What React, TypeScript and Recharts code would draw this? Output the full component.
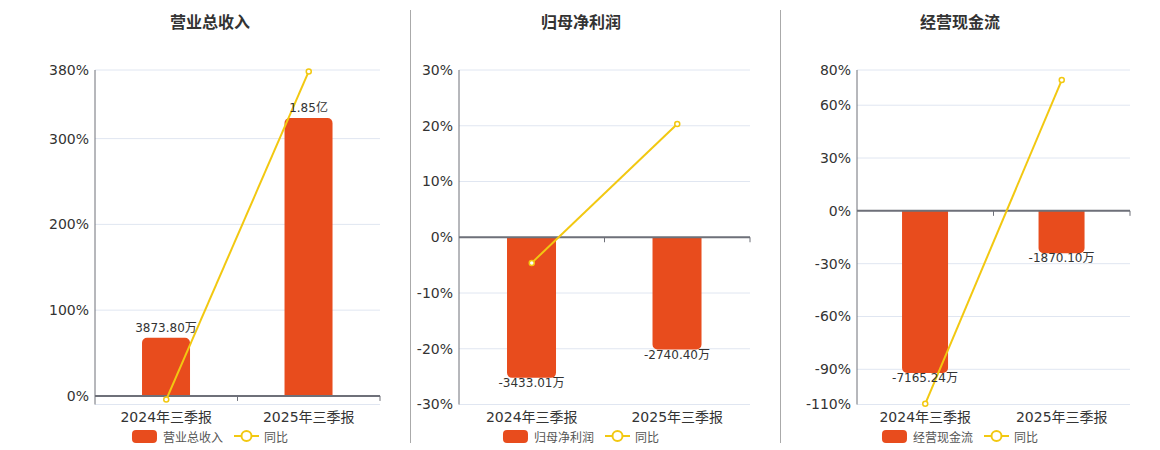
import React from "react"
import { ComposedChart, Bar, Line, XAxis, YAxis, CartesianGrid, ReferenceLine, LabelList } from "recharts"

// 报告期
const periods = ["2024年三季报", "2025年三季报"]

// 营业总收入 (万元) / 同比 (%)
const revenueValues = [3873.8, 18500]
const revenueYoy = [-4.2, 378.3]
const revenueTicks = [-10, 0, 100, 200, 300, 380]
const revenueTickLabels = ["", "0%", "100%", "200%", "300%", "380%"]

// 归母净利润
const profitValues = [-3433.01, -2740.4]
const profitYoy = [-4.6, 20.3]
const profitTicks = [-30, -20, -10, 0, 10, 20, 30]
const profitTickLabels = ["-30%", "-20%", "-10%", "0%", "10%", "20%", "30%"]

// 经营现金流
const cashValues = [-7165.24, -1870.1]
const cashYoy = [-109.6, 74.3]
const cashTicks = [-110, -90, -60, -30, 0, 30, 60, 80]
const cashTickLabels = ["-110%", "-90%", "-60%", "-30%", "0%", "30%", "60%", "80%"]

const BAR_COLOR = "#E84C1D"
const LINE_COLOR = "#F2C811"
const AXIS_COLOR = "#6E7079"
const GRID_COLOR = "#E0E6F1"
const FONT = "'DejaVu Sans', 'Noto Sans CJK SC', sans-serif"

const formatWan = (v: number) =>
  Math.abs(v) >= 10000 ? (v / 10000).toFixed(2) + "亿" : v.toFixed(2) + "万"

const BarValueLabel = (props: any) => {
  const { x, y, width, height, value } = props
  const top = Math.min(Number(y), Number(y) + Number(height))
  const bottom = Math.max(Number(y), Number(y) + Number(height))
  const cx = Number(x) + Number(width) / 2
  const ty = value >= 0 ? top - 6 : bottom + 9
  return (
    <text x={cx} y={ty} textAnchor="middle" fontSize={12} fill="#333" fontFamily={FONT}>
      {formatWan(value)}
    </text>
  )
}

const ZeroAxis = (props: any) => {
  const { x1, x2, y1 } = props
  const mid = (x1 + x2) / 2
  return (
    <g>
      <line x1={x1} y1={y1} x2={x2} y2={y1} stroke={AXIS_COLOR} strokeWidth={2} />
      {[mid, x2].map((tx: number) => (
        <line key={tx} x1={tx} x2={tx} y1={y1} y2={y1 + 5} stroke={AXIS_COLOR} strokeWidth={1} />
      ))}
    </g>
  )
}

interface PanelProps {
  title: string
  name: string
  values: number[]
  yoy: number[]
  ticks: number[]
  tickLabels: string[]
  left: number
  width: number
  center: number
  yAxisWidth: number
  rightMargin: number
  barPerPct: number
}

const Panel: React.FC<PanelProps> = ({
  title, name, values, yoy, ticks, tickLabels, left, width, center, yAxisWidth, rightMargin, barPerPct,
}) => {
  const rows = periods.map((p, i) => ({ period: p, value: values[i], yoy: yoy[i] }))
  const min = ticks[0]
  const max = ticks[ticks.length - 1]
  return (
    <>
      <div
        style={{
          position: "absolute", left: center, top: 13, transform: "translateX(-50%)",
          fontSize: 16, fontWeight: "bold", color: "#333", lineHeight: "20px", whiteSpace: "nowrap",
        }}
      >
        {title}
      </div>
      <div style={{ position: "absolute", left, top: 0 }}>
        <ComposedChart
          width={width}
          height={450}
          data={rows}
          margin={{ top: 70, right: rightMargin, bottom: 15.5, left: 0 }}
          barCategoryGap="33%"
        >
          <CartesianGrid vertical={false} stroke={GRID_COLOR} />
          <XAxis
            dataKey="period"
            axisLine={false}
            tickLine={false}
            height={30}
            tick={{ fontSize: 14, fill: "#333", fontFamily: FONT }}
          />
          <YAxis
            domain={[min, max]}
            ticks={ticks}
            interval={0}
            width={yAxisWidth}
            axisLine={{ stroke: AXIS_COLOR }}
            tickLine={false}
            tickSize={4}
            tickMargin={2}
            tick={{ fontSize: 14, fill: "#333", fontFamily: FONT }}
            tickFormatter={(_v: number, i: number) => tickLabels[i]}
          />
          <YAxis yAxisId="bar" hide domain={[min * barPerPct, max * barPerPct]} />
          <Bar yAxisId="bar" dataKey="value" name={name} fill={BAR_COLOR} radius={[5, 5, 0, 0]} isAnimationActive={false}>
            <LabelList dataKey="value" content={BarValueLabel} />
          </Bar>
          <ReferenceLine y={0} shape={ZeroAxis} />
          <Line
            dataKey="yoy"
            name="同比"
            stroke={LINE_COLOR}
            strokeWidth={2}
            dot={{ r: 2.5, fill: "#fff", stroke: LINE_COLOR, strokeWidth: 1.5 }}
            activeDot={false}
            isAnimationActive={false}
          />
        </ComposedChart>
      </div>
      <div
        style={{
          position: "absolute", left: center, top: 429, transform: "translateX(-50%)",
          display: "flex", alignItems: "center", fontSize: 12, color: "#555", whiteSpace: "nowrap", height: 14,
        }}
      >
        <span style={{ display: "inline-block", width: 25, height: 13, borderRadius: 4, background: BAR_COLOR }} />
        <span style={{ marginLeft: 6 }}>{name}</span>
        <svg width={25} height={14} style={{ marginLeft: 11 }}>
          <line x1={0} x2={25} y1={7} y2={7} stroke={LINE_COLOR} strokeWidth={2} />
          <circle cx={12.5} cy={7} r={5} fill="#fff" stroke={LINE_COLOR} strokeWidth={2} />
        </svg>
        <span style={{ marginLeft: 5 }}>同比</span>
      </div>
    </>
  )
}

export default function App() {
  return (
    <div
      style={{
        position: "absolute", left: 0, top: 0, width: 1160, height: 450,
        background: "#fff", fontFamily: FONT, overflow: "hidden",
      }}
    >
      <Panel
        title="营业总收入" name="营业总收入" values={revenueValues} yoy={revenueYoy}
        ticks={revenueTicks} tickLabels={revenueTickLabels}
        left={0} width={400} center={210} yAxisWidth={95} rightMargin={20} barPerPct={57.11}
      />
      <div style={{ position: "absolute", left: 410, top: 10, width: 1, height: 433, background: "#aaa" }} />
      <Panel
        title="归母净利润" name="归母净利润" values={profitValues} yoy={profitYoy}
        ticks={profitTicks} tickLabels={profitTickLabels}
        left={410} width={370} center={581} yAxisWidth={49} rightMargin={30} barPerPct={136.1}
      />
      <div style={{ position: "absolute", left: 780, top: 10, width: 1, height: 433, background: "#aaa" }} />
      <Panel
        title="经营现金流" name="经营现金流" values={cashValues} yoy={cashYoy}
        ticks={cashTicks} tickLabels={cashTickLabels}
        left={780} width={380} center={960} yAxisWidth={77} rightMargin={30} barPerPct={77.75}
      />
    </div>
  )
}
